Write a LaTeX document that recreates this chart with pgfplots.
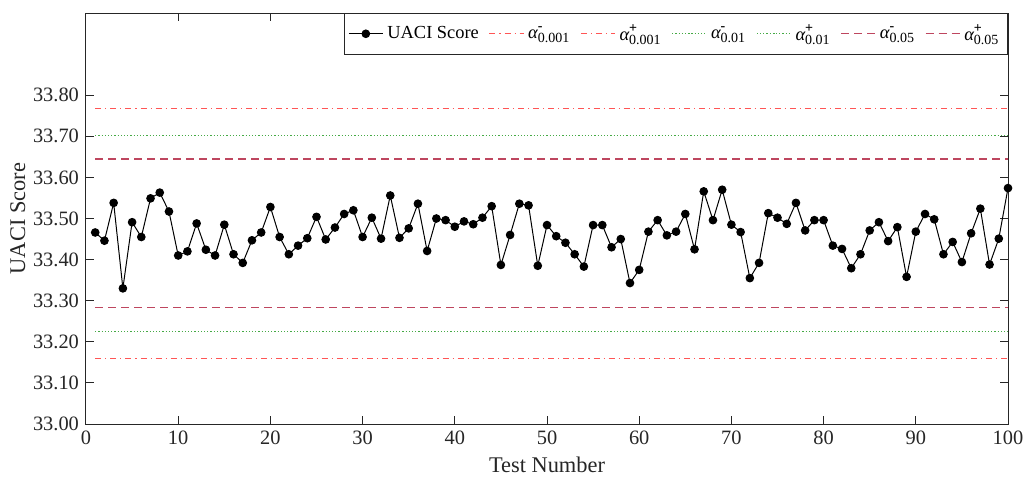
\documentclass[border=0pt]{standalone}
\usepackage{pgfplots}
\pgfplotsset{compat=1.18}
\usepackage{fontspec}
\setmainfont{Liberation Serif}
\definecolor{axgray}{RGB}{38,38,38}
\definecolor{redl}{RGB}{255,85,85}
\definecolor{greenl}{RGB}{70,170,70}
\definecolor{pinkl}{RGB}{190,70,95}
\newcommand{\al}[2]{$\mbox{\itshape α}^{\mbox{\scriptsize\bfseries #1}}_{\mbox{\scriptsize #2}}$}
\begin{document}
\begin{tikzpicture}
\begin{axis}[
  scale only axis,
  width=461pt, height=205.5pt,
  xmin=0, xmax=100, ymin=33.0, ymax=34.0,
  xtick={0,10,20,30,40,50,60,70,80,90,100},
  xticklabels={0,10,20,30,40,50,60,70,80,90,100},
  ytick={33.0,33.1,33.2,33.3,33.4,33.5,33.6,33.7,33.8},
  yticklabels={33.00,33.10,33.20,33.30,33.40,33.50,33.60,33.70,33.80},
  tick align=inside,
  major tick length=4pt,
  axis line style={axgray, line width=0.5pt},
  every tick/.style={axgray, line width=0.5pt},
  tick label style={font=\fontsize{10.2}{12}\selectfont, text=axgray},
  label style={font=\fontsize{11.2}{13}\selectfont, text=axgray},
  xlabel={Test Number},
  ylabel={UACI Score},
  xlabel style={yshift=1pt},
  ylabel style={yshift=-3pt},
  legend style={at={(1,1)}, anchor=north east, legend columns=7,
    font=\fontsize{9.2}{10}\selectfont, draw=axgray, line width=0.5pt,
    /tikz/every even column/.append style={column sep=3pt},
    inner xsep=2pt, inner ysep=3.5pt},
  legend cell align=left,
]
\addplot[black, line width=0.5pt, mark=*, mark size=1.9pt] coordinates {
(1,33.466) (2,33.446) (3,33.538) (4,33.330) (5,33.491) (6,33.455) (7,33.549) (8,33.563) (9,33.517) (10,33.410)
(11,33.420) (12,33.488) (13,33.424) (14,33.410) (15,33.485) (16,33.413) (17,33.392) (18,33.447) (19,33.466) (20,33.528)
(21,33.455) (22,33.413) (23,33.434) (24,33.452) (25,33.504) (26,33.449) (27,33.478) (28,33.511) (29,33.520) (30,33.455)
(31,33.502) (32,33.451) (33,33.556) (34,33.453) (35,33.476) (36,33.536) (37,33.421) (38,33.500) (39,33.496) (40,33.480)
(41,33.493) (42,33.486) (43,33.502) (44,33.530) (45,33.387) (46,33.460) (47,33.536) (48,33.532) (49,33.385) (50,33.484)
(51,33.457) (52,33.441) (53,33.413) (54,33.383) (55,33.484) (56,33.484) (57,33.430) (58,33.450) (59,33.343) (60,33.375)
(61,33.468) (62,33.496) (63,33.459) (64,33.468) (65,33.511) (66,33.425) (67,33.566) (68,33.496) (69,33.570) (70,33.485)
(71,33.467) (72,33.355) (73,33.392) (74,33.513) (75,33.502) (76,33.487) (77,33.538) (78,33.471) (79,33.496) (80,33.496)
(81,33.434) (82,33.426) (83,33.379) (84,33.413) (85,33.471) (86,33.491) (87,33.445) (88,33.479) (89,33.358) (90,33.468)
(91,33.511) (92,33.498) (93,33.413) (94,33.443) (95,33.394) (96,33.464) (97,33.524) (98,33.388) (99,33.451) (100,33.574)
};
\addlegendentry{UACI Score}
\addplot[redl, line width=0.55pt, dash dot] coordinates {(1,33.1594) (100,33.1594)};
\addlegendentry{\al{-}{0.001}}
\addplot[redl, line width=0.55pt, dash dot] coordinates {(1,33.7677) (100,33.7677)};
\addlegendentry{\al{+}{0.001}}
\addplot[greenl, line width=0.6pt, densely dotted] coordinates {(1,33.2255) (100,33.2255)};
\addlegendentry{\al{-}{0.01}}
\addplot[greenl, line width=0.6pt, densely dotted] coordinates {(1,33.7016) (100,33.7016)};
\addlegendentry{\al{+}{0.01}}
\addplot[pinkl, line width=0.55pt, dash pattern=on 4pt off 2.5pt] coordinates {(1,33.2824) (100,33.2824)};
\addlegendentry{\al{-}{0.05}}
\addplot[pinkl, line width=0.55pt, dash pattern=on 4pt off 2.5pt] coordinates {(1,33.6447) (100,33.6447)};
\addlegendentry{\al{+}{0.05}}
\end{axis}
\pgfresetboundingbox
\path ([xshift=-43pt,yshift=-26.5pt]current axis.south west) rectangle ([xshift=8pt,yshift=6.5pt]current axis.north east);
\end{tikzpicture}
\end{document}
